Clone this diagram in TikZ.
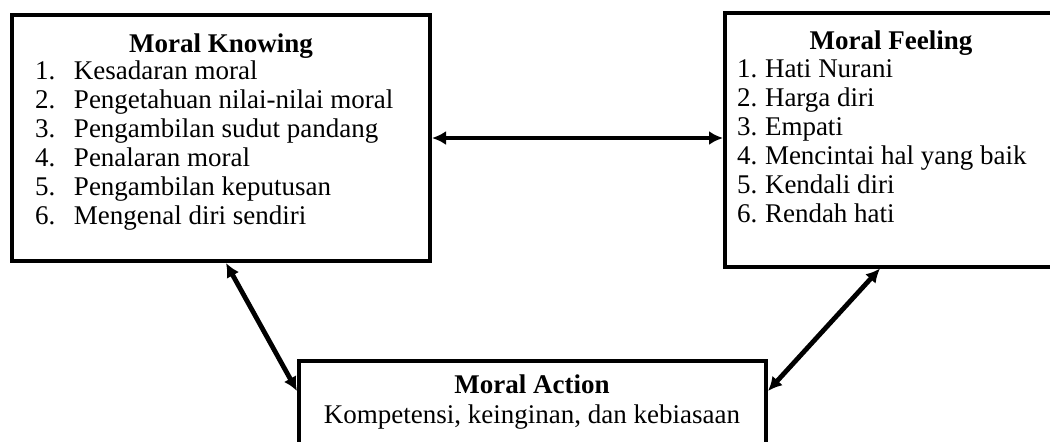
\documentclass[tikz,border=0pt]{standalone}
\usepackage{fontspec}
\setmainfont{Liberation Serif}
\usetikzlibrary{arrows.meta}
\newcommand*{\pxW}{1050}
\newcommand*{\pxH}{441}

\begin{document}
\begin{tikzpicture}[x=0.5pt, y=-0.5pt, line width=2pt,
    every node/.style={font=\fontsize{13.5}{14.5}\selectfont, inner sep=0pt},
    box/.style={draw, rectangle, line width=2pt},
    head/.style={font=\fontsize{13.5}{14.5}\selectfont\bfseries, anchor=base},
    item/.style={anchor=base west},
    link/.style={line width=2.4pt, {Latex[length=7pt,width=7pt]}-{Latex[length=7pt,width=7pt]}}]

    \useasboundingbox (0,0) rectangle (\pxW,\pxH);

% the three boxes
    \node [box, minimum width=209pt, minimum height=123pt] (know) at (221,138) {};
    \node [box, minimum width=168.5pt, minimum height=127pt] (feel) at (893.5,139.5) {};
    \node [box, minimum width=233.5pt, minimum height=59.5pt] (act) at (532.5,420.5) {};

% moral knowing
    \node [head] (knowhead) at (221,52) {Moral Knowing};
    \foreach \t [count=\n] in {Kesadaran moral, Pengetahuan nilai-nilai moral,
        Pengambilan sudut pandang, Penalaran moral, Pengambilan keputusan,
        Mengenal diri sendiri} {
        \node [item] (know\n) at (33,{50+29*\n}) {\makebox[19.5pt][l]{\n.}\t};
    }

% moral feeling
    \node [head] (feelhead) at (891,49) {Moral Feeling};
    \foreach \t [count=\n] in {Hati Nurani, Harga diri, Empati,
        Mencintai hal yang baik, Kendali diri, Rendah hati} {
        \node [item] (feel\n) at (735,{48+29*\n}) {\makebox[14pt][l]{\n.}\t};
    }

% moral action
    \node [head] (acthead) at (532,393) {Moral Action};
    \node [anchor=base] (acttext) at (532,423) {Kompetensi, keinginan, dan kebiasaan};

% links
    \draw [link] (know.east) -- (know.east -| feel.west);
    \draw [link] ([xshift=108pt]know.south west) -- ([yshift=-16pt]act.north west);
    \draw [link] ([xshift=78.5pt]feel.south west) -- ([yshift=-16pt]act.north east);

\end{tikzpicture}
\end{document}
